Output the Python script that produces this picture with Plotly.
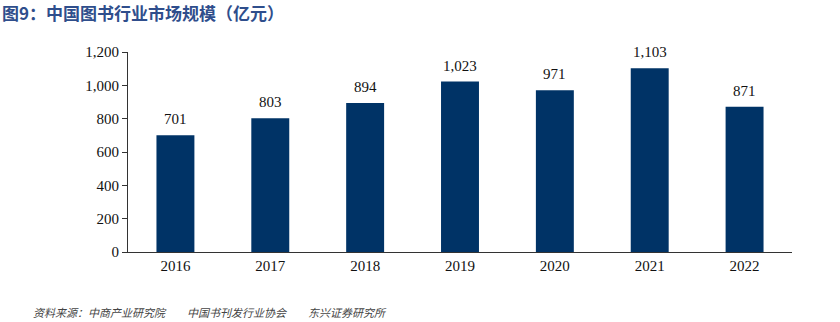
import plotly.graph_objects as go

years = ["2016", "2017", "2018", "2019", "2020", "2021", "2022"]
values = [701, 803, 894, 1023, 971, 1103, 871]
labels = ["701", "803", "894", "1,023", "971", "1,103", "871"]
yticks = [0, 200, 400, 600, 800, 1000, 1200]
yticklabels = ["0", "200", "400", "600", "800", "1,000", "1,200"]

title = "图9：中国图书行业市场规模（亿元）"
source = "资料来源：中商产业研究院\u3000\u3000中国书刊发行业协会\u3000\u3000东兴证券研究所"

serif = "Liberation Serif, Times New Roman, serif"

fig = go.Figure()
fig.add_trace(go.Bar(x=years, y=values, marker_color="#003366", marker_line_width=0,
                     width=0.4, hoverinfo="skip"))

for i, (v, t) in enumerate(zip(values, labels)):
    fig.add_annotation(x=i, y=v, text=t, showarrow=False, yanchor="middle",
                       yshift=16, font=dict(family=serif, size=15, color="#111111"))

fig.add_annotation(xref="paper", yref="paper", x=-128/664, y=1 + (52 - 12) / 200,
                   xanchor="left", yanchor="middle", text="<b>" + title + "</b>",
                   showarrow=False, font=dict(family="Noto Sans CJK SC", size=17, color="#2f4e8c"))
fig.add_annotation(xref="paper", yref="paper", x=-(128 - 31) / 664, y=-(312 - 252) / 200,
                   xanchor="left", yanchor="middle", text="<i>" + source + "</i>",
                   showarrow=False, font=dict(family="Noto Sans CJK SC", size=11, color="#444444"))

fig.update_layout(
    width=840, height=322,
    margin=dict(l=128, r=48, t=52, b=70),
    plot_bgcolor="white", paper_bgcolor="white",
    showlegend=False,
)
fig.update_xaxes(type="category", range=[-0.5, 6.5], showline=True, linecolor="#333333", linewidth=1,
                 ticks="", tickfont=dict(family=serif, size=15, color="#111111"),
                 showgrid=False)
fig.update_yaxes(range=[0, 1200], tickvals=yticks, ticktext=yticklabels,
                 showline=True, linecolor="#333333", linewidth=1,
                 ticks="outside", ticklen=5, tickcolor="#333333",
                 tickfont=dict(family=serif, size=15, color="#111111"),
                 showgrid=False, zeroline=False)

fig.write_html("out.html")
